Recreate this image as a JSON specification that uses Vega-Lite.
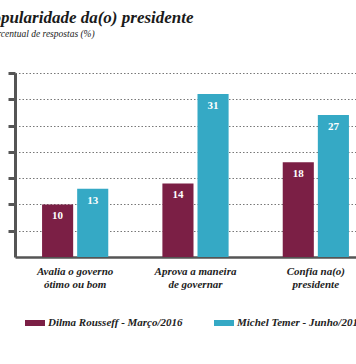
{
  "$schema": "https://vega.github.io/schema/vega-lite/v6.json",
  "width": 361,
  "height": 184,
  "autosize": "none",
  "padding": {"left": 15, "top": 73, "right": 0, "bottom": 107},
  "background": "white",
  "title": {
    "text": "Popularidade da(o) presidente",
    "anchor": "start",
    "frame": "group",
    "dx": -33,
    "offset": 1,
    "font": "Liberation Sans Narrow",
    "fontSize": 17,
    "fontStyle": "italic",
    "fontWeight": "bold",
    "color": "#1a1a1a"
  },
  "data": {
    "values": [
      {"cat": "Avalia o governo\nótimo ou bom", "pres": "Dilma Rousseff - Março/2016", "v": 10},
      {"cat": "Avalia o governo\nótimo ou bom", "pres": "Michel Temer  - Junho/2016", "v": 13},
      {"cat": "Aprova a maneira\nde governar", "pres": "Dilma Rousseff - Março/2016", "v": 14},
      {"cat": "Aprova a maneira\nde governar", "pres": "Michel Temer  - Junho/2016", "v": 31},
      {"cat": "Confia na(o)\npresidente", "pres": "Dilma Rousseff - Março/2016", "v": 18},
      {"cat": "Confia na(o)\npresidente", "pres": "Michel Temer  - Junho/2016", "v": 27}
    ]
  },
  "encoding": {
    "x": {
      "field": "cat",
      "type": "nominal",
      "sort": null,
      "scale": {"paddingInner": 0, "paddingOuter": 0},
      "axis": {
        "title": null,
        "labelAngle": 0,
        "ticks": false,
        "grid": false,
        "domainColor": "#555",
        "domainWidth": 2.5,
        "labelExpr": "split(datum.value, '\\n')",
        "labelFont": "Liberation Sans Narrow",
        "labelFontSize": 11,
        "labelFontStyle": "italic",
        "labelFontWeight": "bold",
        "labelColor": "#222",
        "labelPadding": 8,
        "labelLineHeight": 13
      }
    },
    "xOffset": {
      "field": "pres",
      "type": "nominal",
      "scale": {"paddingInner": 0.114, "paddingOuter": 0.771}
    },
    "y": {
      "field": "v",
      "type": "quantitative",
      "scale": {"domain": [0, 35], "nice": false},
      "axis": {
        "values": [5, 10, 15, 20, 25, 30, 35],
        "grid": true,
        "gridDash": [1.5, 2],
        "gridColor": "#777",
        "gridWidth": 1,
        "domainColor": "#555",
        "domainWidth": 3,
        "tickColor": "#555",
        "tickWidth": 3,
        "tickSize": 7,
        "labels": false,
        "title": "Percentual de respostas (%)",
        "titleAngle": 0,
        "titleAlign": "left",
        "titleBaseline": "alphabetic",
        "titleX": -28,
        "titleY": -37,
        "titleFont": "Liberation Sans Narrow",
        "titleFontSize": 9.5,
        "titleFontStyle": "italic",
        "titleFontWeight": "normal",
        "titleColor": "#222"
      }
    }
  },
  "layer": [
    {
      "mark": {"type": "bar"},
      "encoding": {
        "color": {
          "field": "pres",
          "type": "nominal",
          "scale": {"range": ["#7b1f45", "#35a9c5"]},
          "legend": {
            "orient": "none",
            "legendX": 10,
            "legendY": 240,
            "direction": "horizontal",
            "title": null,
            "symbolType": "M-1,-0.3H1V0.3H-1Z",
            "symbolSize": 400,
            "symbolStrokeWidth": 0,
            "symbolOpacity": 1,
            "labelFont": "Liberation Sans Narrow",
            "labelFontSize": 11,
            "labelFontStyle": "italic",
            "labelFontWeight": "bold",
            "labelColor": "#222",
            "labelOffset": 3,
            "labelLimit": 300,
            "columnPadding": 31,
            "padding": 0
          }
        }
      }
    },
    {
      "mark": {"type": "text", "dy": 12, "color": "white", "fontSize": 11, "fontWeight": "bold", "font": "Liberation Sans Narrow"},
      "encoding": {"text": {"field": "v", "type": "quantitative"}}
    }
  ],
  "config": {"view": {"stroke": null}}
}
